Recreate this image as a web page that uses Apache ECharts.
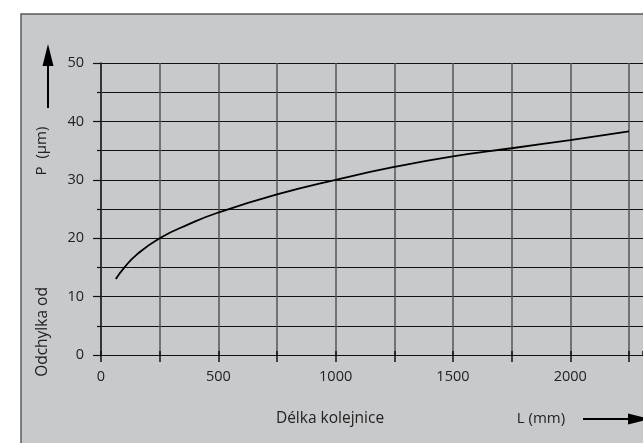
<!DOCTYPE html>
<html>
<head>
<meta charset="utf-8">
<script src="https://cdn.jsdelivr.net/npm/echarts@6/dist/echarts.min.js"></script>
<style>
  html, body { margin: 0; padding: 0; background: #fff; }
  #chart { width: 643px; height: 443px; }
</style>
</head>
<body>
<div id="chart"></div>
<script>
// rail length L (mm) and deviation P (um)
var lengths = [63, 100, 150, 250, 375, 500, 750, 1000, 1250, 1500, 1750, 2000, 2250];
var deviations = [13.0, 15.0, 17.1, 20.0, 22.4, 24.4, 27.5, 30.0, 32.2, 34.0, 35.4, 36.8, 38.3];

var yTitleTop = 'P  (µm)';
var yTitleBottom = 'Odchylka od';
var xTitle = 'Délka kolejnice';
var xUnit = 'L (mm)';

var textColor = '#222';
var font = '"Open Sans", "DejaVu Sans", sans-serif';

// vertical grid lines: 0..2250 every 250, last tick (axis end at the page edge) hidden
var vColors = [];
for (var i = 0; i < 10; i++) vColors.push('#555');
vColors.push('rgba(0,0,0,0)');

var chart = echarts.init(document.getElementById('chart'));

var points = lengths.map(function (l, i) { return [l, deviations[i]]; });

var option = {
    animation: false,
    backgroundColor: '#fff',
    grid: { left: 101, top: 63, width: 542, height: 292 },
    xAxis: [
        {
            type: 'value', min: 0, max: 2310, interval: 250,
            axisLine: { show: true, onZero: false, lineStyle: { color: '#111', width: 1.2 } },
            axisTick: { show: true, length: 7, lineStyle: { color: vColors, width: 1.5 } },
            axisLabel: {
                margin: 14, color: textColor, fontSize: 14.5, fontFamily: font,
                showMaxLabel: false,
                formatter: function (v) { return v % 500 === 0 ? String(v) : ''; }
            },
            splitLine: { show: true, lineStyle: { color: vColors, width: 1.5 } }
        },
        {
            type: 'value', position: 'top', min: 0, max: 2310, interval: 250,
            axisLine: { show: false },
            axisTick: { show: true, length: 4, lineStyle: { color: vColors, width: 1.5 } },
            axisLabel: { show: false },
            splitLine: { show: false }
        }
    ],
    yAxis: {
        type: 'value', min: 0, max: 50, interval: 10,
        axisLine: { show: true, lineStyle: { color: '#222', width: 1.5 } },
        axisTick: { show: true, length: 8, lineStyle: { color: '#111', width: 1.2 } },
        minorTick: { show: true, splitNumber: 2, length: 4, lineStyle: { color: '#111', width: 1.2 } },
        axisLabel: { margin: 17, color: textColor, fontSize: 14.5, fontFamily: font },
        splitLine: { show: true, lineStyle: { color: '#111', width: 1.2 } },
        minorSplitLine: { show: true, lineStyle: { color: '#111', width: 1.2 } }
    },
    graphic: [
        {
            type: 'rect', z: -100, silent: true,
            shape: { x: 21, y: 14, width: 660, height: 470 },
            style: { fill: '#c8c9cb', stroke: '#58595b', lineWidth: 1.5 }
        },
        // upward arrow
        { type: 'line', shape: { x1: 48, y1: 108, x2: 48, y2: 62 }, style: { stroke: '#000', lineWidth: 2 } },
        { type: 'polygon', shape: { points: [[48, 44], [42.5, 66], [53.5, 66]] }, style: { fill: '#000' } },
        {
            type: 'text', x: 42, y: 151, rotation: Math.PI / 2,
            style: { text: yTitleTop, fill: textColor, font: '15px ' + font, align: 'center', verticalAlign: 'middle' }
        },
        {
            type: 'text', x: 43, y: 332, rotation: Math.PI / 2,
            style: { text: yTitleBottom, fill: textColor, font: '15.5px ' + font, align: 'center', verticalAlign: 'middle' }
        },
        {
            type: 'text', x: 330, y: 419,
            style: { text: xTitle, fill: textColor, font: '15.5px ' + font, align: 'center', verticalAlign: 'middle' }
        },
        {
            type: 'text', x: 541, y: 419,
            style: { text: xUnit, fill: textColor, font: '15px ' + font, align: 'center', verticalAlign: 'middle' }
        },
        // rightward arrow
        { type: 'line', shape: { x1: 583, y1: 419, x2: 635, y2: 419 }, style: { stroke: '#000', lineWidth: 2 } },
        { type: 'polygon', shape: { points: [[650, 419], [628, 413.5], [628, 424.5]] }, style: { fill: '#000' } }
    ],
    series: [
        {
            type: 'line',
            xAxisIndex: 0,
            data: points,
            smooth: true,
            showSymbol: false,
            lineStyle: { color: '#000', width: 1.8 }
        }
    ]
};

chart.setOption(option);
</script>
</body>
</html>
